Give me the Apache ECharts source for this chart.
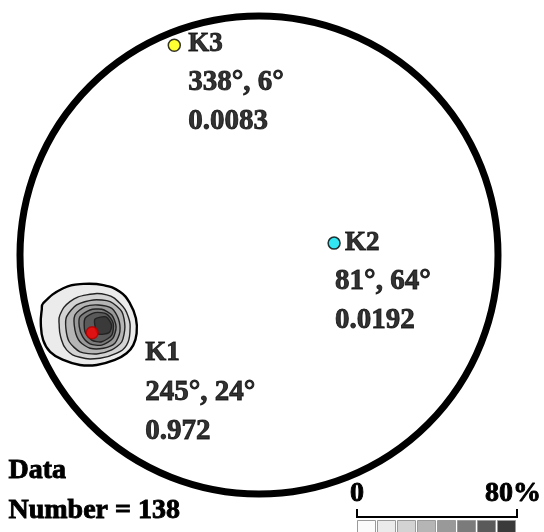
<!DOCTYPE html>
<html>
<head>
<meta charset="utf-8">
<style>
  html, body { margin: 0; padding: 0; background: #ffffff; }
  #chart { width: 544px; height: 532px; }
</style>
<script src="https://cdn.jsdelivr.net/npm/echarts@6/dist/echarts.min.js"></script>
</head>
<body>
<div id="chart"></div>
<script>
// Principal axes of the fabric: trend / plunge in degrees, with eigenvalues
const axisNames = ['K1', 'K2', 'K3'];
const axisTrend = [245, 81, 338];
const axisPlunge = [24, 64, 6];
const axisEigen = [0.972, 0.0192, 0.0083];
const dataCount = 138;

// Density contour bands (outermost first), vertices in the equal-area plane (unit primitive circle)
const contourLevels = [10, 20, 30, 40, 50, 60, 70];
const contourRings = [
  [[-0.903,-0.202],[-0.819,-0.139],[-0.735,-0.121],[-0.651,-0.126],[-0.582,-0.154],[-0.540,-0.202],
   [-0.515,-0.265],[-0.512,-0.328],[-0.526,-0.377],[-0.554,-0.411],[-0.603,-0.439],[-0.679,-0.460],
   [-0.749,-0.460],[-0.819,-0.439],[-0.874,-0.405],[-0.903,-0.356],[-0.913,-0.286],[-0.909,-0.230]],
  [[-0.833,-0.251],[-0.791,-0.195],[-0.721,-0.167],[-0.637,-0.167],[-0.582,-0.202],[-0.547,-0.258],
   [-0.540,-0.321],[-0.554,-0.377],[-0.595,-0.411],[-0.665,-0.432],[-0.749,-0.428],[-0.805,-0.397],
   [-0.830,-0.342],[-0.836,-0.293]],
  [[-0.805,-0.258],[-0.763,-0.209],[-0.693,-0.188],[-0.623,-0.195],[-0.574,-0.237],[-0.561,-0.300],
   [-0.574,-0.363],[-0.616,-0.397],[-0.679,-0.414],[-0.749,-0.405],[-0.794,-0.363],[-0.808,-0.307]],
  [[-0.770,-0.251],[-0.728,-0.216],[-0.672,-0.209],[-0.616,-0.223],[-0.589,-0.265],[-0.582,-0.321],
   [-0.603,-0.369],[-0.651,-0.390],[-0.707,-0.390],[-0.749,-0.363],[-0.770,-0.314]],
  [[-0.749,-0.258],[-0.707,-0.230],[-0.658,-0.227],[-0.616,-0.251],[-0.598,-0.300],[-0.612,-0.349],
   [-0.658,-0.377],[-0.707,-0.372],[-0.738,-0.342],[-0.752,-0.300]],
  [[-0.728,-0.265],[-0.686,-0.241],[-0.637,-0.247],[-0.610,-0.286],[-0.616,-0.335],[-0.658,-0.363],
   [-0.700,-0.356],[-0.728,-0.321]],
  [[-0.686,-0.268],[-0.640,-0.259],[-0.617,-0.293],[-0.627,-0.325],[-0.672,-0.331],[-0.685,-0.303]]
];

// Grey scale of the density legend, 0 to 80 %
const scaleLabels = ['0', '80%'];
const scaleColors = ['#fbfbfb', '#ebebeb', '#d3d3d3', '#b5b5b5', '#999999', '#7b7b7b', '#5a5a5a', '#3a3a3a'];

// ---- styling ----
const markerColors = ['#ff0000', '#00e0f0', '#ffff00'];
const labelOffsets = [[53, 1], [1, -20], [14, -21]];
const labelIndent = [0, 10, 0];
const serif = '"Liberation Serif", "Times New Roman", serif';
const inkWidth = 0.9;   // thin outline that thickens the bold serif glyphs

// Lambert equal-area, lower hemisphere; primitive circle has radius 1
function project(trend, plunge) {
  const t = trend * Math.PI / 180;
  const p = plunge * Math.PI / 180;
  const r = Math.SQRT2 * Math.sin((Math.PI / 2 - p) / 2);
  return [r * Math.sin(t), r * Math.cos(t)];
}

const fmtAngle = v => v + '°';

const axisPoints = axisNames.map((name, i) => ({
  name,
  value: project(axisTrend[i], axisPlunge[i]),
  itemStyle: { color: markerColors[i], borderColor: i === 0 ? '#b00000' : '#000', borderWidth: 1.5 },
  label: {
    show: true,
    position: ['50%', '50%'],
    align: 'left',
    verticalAlign: 'top',
    offset: labelOffsets[i],
    formatter: '{k|' + name + '}\n{v|' + fmtAngle(axisTrend[i]) + ', ' + fmtAngle(axisPlunge[i]) + '}\n{v|' + axisEigen[i] + '}',
    rich: {
      k: { fontFamily: serif, fontWeight: 'bold', fontSize: 27, lineHeight: 39, color: '#000',
           textBorderColor: '#000', textBorderWidth: inkWidth, padding: [0, 0, 0, labelIndent[i]] },
      v: { fontFamily: serif, fontWeight: 'bold', fontSize: 29, lineHeight: 39, color: '#000',
           textBorderColor: '#000', textBorderWidth: inkWidth }
    }
  }
}));

const chart = echarts.init(document.getElementById('chart'), null, { renderer: 'canvas' });

const textStyle = (text, extra) => Object.assign({
  text, font: 'bold 28px ' + serif, fill: '#000', stroke: '#000', lineWidth: inkWidth
}, extra || {});

const barLeft = 357, barTop = 520, cellStep = 20, cellW = 18, cellH = 14;
const barRight = barLeft + cellStep * scaleColors.length;
const legendGraphics = [
  { type: 'text', left: 8, top: 456, style: textStyle('Data') },
  { type: 'text', left: 8, top: 496, style: textStyle('Number = ' + dataCount) },
  { type: 'text', x: barLeft, y: 494, style: textStyle(scaleLabels[0], { align: 'center', verticalAlign: 'middle' }) },
  { type: 'text', x: barRight - 4, y: 494, style: textStyle(scaleLabels[1], { align: 'center', verticalAlign: 'middle' }) },
  { type: 'polyline', shape: { points: [[barLeft, 509], [barLeft, 517], [barRight, 517], [barRight, 509]] },
    style: { stroke: '#000', lineWidth: 2, fill: null } }
].concat(scaleColors.map((c, i) => ({
  type: 'rect',
  shape: { x: barLeft + i * cellStep + 0.5, y: barTop + 0.5, width: cellW, height: cellH },
  style: { fill: c, stroke: '#9a9a9a', lineWidth: 1 }
})));

chart.setOption({
  animation: false,
  backgroundColor: '#ffffff',
  grid: { left: 20, top: 16, width: 478, height: 478, show: false },
  xAxis: { type: 'value', min: -1, max: 1, show: false },
  yAxis: { type: 'value', min: -1, max: 1, show: false },
  graphic: legendGraphics,
  series: [
    {
      type: 'custom',
      name: 'density',
      z: 1,
      silent: true,
      data: contourLevels.map((lv, i) => [i, lv]),
      encode: { x: -1, y: -1 },
      renderItem: (params, api) => {
        const i = params.dataIndex;
        const pts = contourRings[i].map(p => api.coord(p));
        return {
          type: 'polygon',
          shape: { points: pts, smooth: i < 2 ? 0.45 : 0.25 },
          style: { fill: scaleColors[i + 1], stroke: i === 0 ? '#000' : '#222', lineWidth: i === 0 ? 2.4 : 1.4 }
        };
      }
    },
    {
      type: 'custom',
      name: 'primitive',
      z: 2,
      silent: true,
      data: [[0, 0]],
      encode: { x: 0, y: 1 },
      renderItem: (params, api) => {
        const c = api.coord([0, 0]);
        const e = api.coord([1, 0]);
        return {
          type: 'circle',
          shape: { cx: c[0], cy: c[1], r: e[0] - c[0] },
          style: { fill: 'none', stroke: '#000', lineWidth: 7 }
        };
      }
    },
    {
      type: 'scatter',
      name: 'axes',
      z: 3,
      symbol: 'circle',
      symbolSize: 12,
      data: axisPoints
    }
  ]
});
</script>
</body>
</html>
